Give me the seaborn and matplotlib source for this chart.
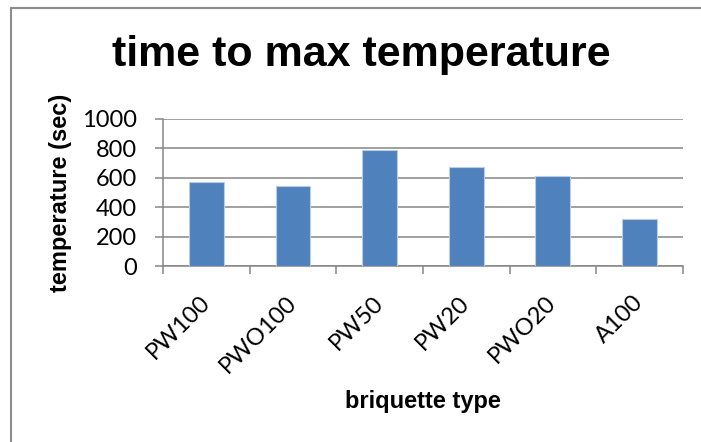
import matplotlib
matplotlib.use("Agg")
import matplotlib.pyplot as plt
import seaborn as sns
import pandas as pd
from matplotlib.lines import Line2D

# Data
briquettes = ["PW100", "PWO100", "PW50", "PW20", "PWO20", "A100"]
time_to_max = [569, 546, 789, 676, 614, 320]
y_ticks = [0, 200, 400, 600, 800, 1000]

df = pd.DataFrame({"briquette": briquettes, "time": time_to_max})

sns.set_style("white")
plt.rcParams["font.family"] = ["Lato", "DejaVu Sans"]
plt.rcParams["text.color"] = "black"
plt.rcParams["axes.labelcolor"] = "black"

fig = plt.figure(figsize=(7.01, 4.42), dpi=100)
ax = fig.add_axes([0.2325, 0.398, 0.7415, 0.333])

sns.barplot(data=df, x="briquette", y="time", color="#4F81BD", saturation=1,
            width=0.4, edgecolor="#B9CDE5", linewidth=0.8, ax=ax, zorder=3)

ax.set_ylim(0, 1000)
ax.set_xlim(-0.5, len(briquettes) - 0.5)
ax.set_yticks(y_ticks)
ax.set_yticklabels([str(v) for v in y_ticks], fontsize=17)
ax.yaxis.grid(True, color="#868686", linewidth=1.1, zorder=0)
ax.set_axisbelow(True)

# labels at category centres, tick marks at the boundaries
ax.set_xticks(range(len(briquettes)))
ax.set_xticklabels(briquettes, rotation=45, ha="right", va="center",
                   rotation_mode="anchor", fontsize=17)
ax.tick_params(axis="x", which="major", bottom=True, length=0, pad=24,
               labelcolor="black")
ax.set_xticks([i - 0.5 for i in range(len(briquettes) + 1)], minor=True)
ax.tick_params(axis="x", which="minor", bottom=True, length=6, width=1.1,
               color="#868686")
ax.tick_params(axis="y", left=True, length=6, width=1.1, color="#868686",
               pad=13, labelcolor="black")

for side in ["top", "right"]:
    ax.spines[side].set_visible(False)
for side in ["left", "bottom"]:
    ax.spines[side].set_color("#868686")
    ax.spines[side].set_linewidth(1.1)

ax.set_xlabel("briquette type", fontsize=17, fontweight="bold",
              family=["Liberation Sans"], va="top")
ax.xaxis.set_label_coords(0.5, -0.84)
ax.set_ylabel("temperature (sec)", fontsize=17, fontweight="bold",
              family=["Liberation Sans"])
ax.yaxis.set_label_coords(-0.175, 0.5)

fig.text(0.515, 0.876, "time to max temperature", ha="center", va="center",
         fontsize=31, fontweight="bold", family=["Liberation Sans"])

# outer chart border (top and left visible)
fig.add_artist(Line2D([0.016, 1.0], [0.982, 0.982], transform=fig.transFigure,
                      color="#8C8C8C", linewidth=1.5))
fig.add_artist(Line2D([0.016, 0.016], [0.0, 0.982], transform=fig.transFigure,
                      color="#8C8C8C", linewidth=1.5))

fig.savefig("out.png", dpi=100)
plt.close(fig)
